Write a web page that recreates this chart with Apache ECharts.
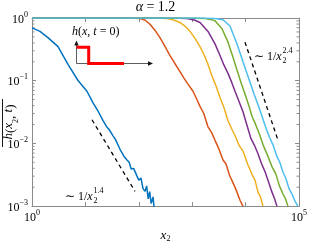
<!DOCTYPE html>
<html><head><meta charset="utf-8">
<script src="https://cdn.jsdelivr.net/npm/echarts@6/dist/echarts.min.js"></script>
<style>html,body{margin:0;padding:0;background:#fff}#c{width:311px;height:248px}</style>
</head><body><div id="c"></div>
<script>
// ---- data ----
const blueX = [1, 1.41, 1.99, 3.07, 4.72, 7.27, 10.7, 13.9, 17.5, 21.4, 25, 28, 32.9, 36, 40, 44.5, 48, 53, 60.1, 66, 72, 80, 92.5, 100, 110, 120, 131, 140, 150, 160, 170, 177, 185, 193, 201];
const blueY = [0.697, 0.611, 0.486, 0.350, 0.182, 0.1007, 0.0679, 0.0443, 0.032, 0.0230, 0.0185, 0.0165, 0.0132, 0.0118, 0.0098, 0.00805, 0.0078, 0.0062, 0.00543, 0.0050, 0.0039, 0.0040, 0.00301, 0.0026, 0.0028, 0.0019, 0.00172, 0.0021, 0.0013, 0.0017, 0.0011, 0.00113, 0.0014, 0.00095, 0.00099];

const orangeX = [1, 60, 105, 130, 162, 200, 249, 300, 384, 470, 591, 700, 834, 1035, 1200, 1400, 1650, 1977, 2300, 2673, 3100, 3775, 4300, 5000, 5563, 6500, 7855, 8935];
const orangeY = [1, 1, 0.984, 0.93, 0.795, 0.64, 0.486, 0.37, 0.252, 0.19, 0.14, 0.11, 0.0883, 0.0679, 0.052, 0.0389, 0.030, 0.0183, 0.0150, 0.0112, 0.0085, 0.00543, 0.0047, 0.0031, 0.00255, 0.0019, 0.00124, 0.00099];

const yellowX = [1, 200, 337, 450, 591, 750, 910, 1150, 1400, 1700, 1977, 2349, 2800, 3317, 3900, 4682, 5600, 6610, 7600, 8935, 11000, 13180, 15000, 17070, 19000, 21170];
const yellowY = [1, 1, 0.984, 0.93, 0.849, 0.73, 0.611, 0.46, 0.350, 0.25, 0.182, 0.119, 0.082, 0.054, 0.038, 0.023, 0.0165, 0.0123, 0.0092, 0.00754, 0.0046, 0.00321, 0.0026, 0.00167, 0.0014, 0.00099];

const purpleX = [1, 400, 799, 1100, 1400, 1977, 2673, 3317, 3900, 4682, 5500, 6327, 7500, 8935, 10500, 12620, 14500, 17070, 20000, 23070, 27000, 31190, 35000, 38700];
const purpleY = [1, 1, 0.984, 0.93, 0.849, 0.611, 0.386, 0.252, 0.18, 0.131, 0.094, 0.0679, 0.047, 0.0319, 0.020, 0.0119, 0.0095, 0.00684, 0.0047, 0.00355, 0.0024, 0.00167, 0.0013, 0.00099];

const greenX = [1, 800, 1738, 2200, 2673, 3614, 4682, 5806, 7209, 8400, 9743, 11500, 13180, 15800, 18620, 22000, 26260, 31000, 37070, 43000, 50120, 56000, 62250];
const greenY = [1, 1, 0.984, 0.95, 0.906, 0.675, 0.412, 0.236, 0.131, 0.088, 0.0615, 0.040, 0.0271, 0.019, 0.0132, 0.0088, 0.0062, 0.0043, 0.00321, 0.0021, 0.00156, 0.0013, 0.00099];

const cyanX = [1, 1500, 2673, 3775, 5103, 6903, 8935, 12090, 14500, 17070, 20000, 23070, 27500, 32570, 38000, 44020, 50000, 57110, 65000, 73960, 84000, 95800];
const cyanY = [1, 1, 0.984, 0.936, 0.744, 0.386, 0.200, 0.0943, 0.060, 0.0415, 0.028, 0.0195, 0.0130, 0.00948, 0.0064, 0.00492, 0.0035, 0.00273, 0.0019, 0.00156, 0.0012, 0.00099];

// guide lines (power-law slopes)
const guide14X = [13.3, 84.9];
const guide14Y = [0.0238, 0.00172];
const guide24X = [9743, 40450];
const guide24Y = [0.412, 0.0112];

// tick labels
const xLabelExponents = {1: '0', 100000: '5'};
const yLabelExponents = {1: '0', 0.1: '−1', 0.01: '−2', 0.001: '−3'};
const minorDecades = [0.001, 0.01, 0.1];
const minorMultipliers = [2, 3, 4, 5, 6, 7, 8, 9];

// ---- chart ----
const SERIF = 'Liberation Serif';
const zip = (xs, ys) => xs.map((x, i) => [x, ys[i]]);
const colors = ['#0072BD', '#D95319', '#EDB120', '#7E2F8E', '#77AC30', '#4DBEEE'];
const curves = [[blueX, blueY], [orangeX, orangeY], [yellowX, yellowY], [purpleX, purpleY], [greenX, greenY], [cyanX, cyanY]];

const minorY = [];
minorDecades.forEach(d => minorMultipliers.forEach(m => minorY.push([1, d * m])));

const tickRich = {
  b: {fontFamily: SERIF, fontSize: 12, color: '#000', lineHeight: 15, verticalAlign: 'bottom'},
  s: {fontFamily: SERIF, fontSize: 8, color: '#000', lineHeight: 9, verticalAlign: 'top'}
};
const axisCol = '#8a8a8a';

const chart = echarts.init(document.getElementById('c'), null, {renderer: 'canvas'});
const series = curves.map((c, i) => ({
  type: 'line', xAxisIndex: 0, yAxisIndex: 0,
  data: zip(c[0], c[1]), showSymbol: false, symbol: 'none', silent: true,
  lineStyle: {color: colors[i], width: 1.5}, z: 3 + i, animation: false
}));
series.push({
  type: 'line', data: zip(guide14X, guide14Y), showSymbol: false, symbol: 'none', silent: true,
  lineStyle: {color: '#000', width: 1.3, type: [4, 3.5]}, z: 10, animation: false
});
series.push({
  type: 'line', data: zip(guide24X, guide24Y), showSymbol: false, symbol: 'none', silent: true,
  lineStyle: {color: '#000', width: 1.3, type: [4, 3.5]}, z: 10, animation: false
});
series.push({
  type: 'custom', data: minorY, silent: true, clip: false, z: 2, animation: false,
  renderItem: (params, api) => {
    const pl = api.coord([1, api.value(1)]);
    const pr = api.coord([100000, api.value(1)]);
    return {type: 'group', children: [
      {type: 'line', shape: {x1: pl[0], y1: pl[1], x2: pl[0] + 2.5, y2: pl[1]}, style: {stroke: axisCol, lineWidth: 1}},
      {type: 'line', shape: {x1: pr[0] - 2.5, y1: pr[1], x2: pr[0], y2: pr[1]}, style: {stroke: axisCol, lineWidth: 1}}
    ]};
  }
});

const baseAxis = {
  type: 'log', logBase: 10, splitLine: {show: false},
  axisLine: {show: true, lineStyle: {color: axisCol, width: 1}},
  axisTick: {show: true, inside: true, length: 4, lineStyle: {color: axisCol}},
  minorTick: {show: false}
};

chart.setOption({
  animation: false,
  grid: {left: 32, top: 18, width: 267, height: 210.5},
  xAxis: [
    Object.assign({}, baseAxis, {
      min: 1, max: 100000, interval: 1, position: 'bottom',
      axisLabel: {show: true, margin: 3, formatter: v => xLabelExponents[v] !== undefined ? '{b|10}{s|' + xLabelExponents[v] + '}' : '', rich: tickRich, showMinLabel: true, showMaxLabel: true},
      name: '{i|x}{s|2}', nameLocation: 'middle', nameGap: 5,
      nameTextStyle: {rich: {
        i: {fontFamily: SERIF, fontStyle: 'italic', fontSize: 13, color: '#000', lineHeight: 12, verticalAlign: 'top'},
        s: {fontFamily: SERIF, fontSize: 8, color: '#000', lineHeight: 14, verticalAlign: 'bottom'}
      }}
    }),
    Object.assign({}, baseAxis, {min: 1, max: 100000, interval: 1, position: 'top', axisLabel: {show: false}})
  ],
  yAxis: [
    Object.assign({}, baseAxis, {
      min: 0.001, max: 1, interval: 1, position: 'left',
      axisLabel: {show: true, margin: 4, formatter: v => {
        const k = Object.keys(yLabelExponents).find(key => Math.abs(Math.log10(+key) - Math.log10(v)) < 1e-6);
        return k !== undefined ? '{b|10}{s|' + yLabelExponents[k] + '}' : '';
      }, rich: tickRich, showMinLabel: true, showMaxLabel: true}
    }),
    Object.assign({}, baseAxis, {min: 0.001, max: 1, interval: 1, position: 'right', axisLabel: {show: false}})
  ],
  series: series,
  graphic: [
    // title
    {type: 'text', left: 'center', top: 0, style: {
      text: '{i|α} = 1.2', fill: '#000', font: '14px "' + SERIF + '"',
      rich: {i: {fontFamily: SERIF, fontStyle: 'italic', fontSize: 14, fill: '#000'}}
    }},
    // y axis name (rotated) with overline
    {type: 'text', x: 11, y: 122, rotation: Math.PI / 2, style: {
      text: '{i|h}({i|x}{s|2}, {i|t})', align: 'center', verticalAlign: 'middle', fill: '#000', font: '13px "' + SERIF + '"',
      rich: {
        i: {fontFamily: SERIF, fontStyle: 'italic', fontSize: 13, fill: '#000', lineHeight: 14, verticalAlign: 'top'},
        s: {fontFamily: SERIF, fontSize: 8, fill: '#000', lineHeight: 17, verticalAlign: 'bottom'}
      }
    }},
    {type: 'line', shape: {x1: 2.5, y1: 99, x2: 2.5, y2: 147}, style: {stroke: '#000', lineWidth: 0.9}},
    // inset schematic h(x, t=0)
    {type: 'text', x: 72, y: 32, style: {
      text: '{i|h}({i|x}, {i|t} = 0)', verticalAlign: 'middle', fill: '#000', font: '12px "' + SERIF + '"',
      rich: {i: {fontFamily: SERIF, fontStyle: 'italic', fontSize: 12, fill: '#000'}}
    }},
    {type: 'line', shape: {x1: 76.5, y1: 63.5, x2: 76.5, y2: 44}, style: {stroke: '#333', lineWidth: 0.8}},
    {type: 'polygon', shape: {points: [[76.5, 40.5], [74.3, 45.5], [78.7, 45.5]]}, style: {fill: '#111'}},
    {type: 'line', shape: {x1: 76.5, y1: 63.5, x2: 149, y2: 63.5}, style: {stroke: '#333', lineWidth: 0.8}},
    {type: 'polygon', shape: {points: [[153, 63.5], [148, 61.3], [148, 65.7]]}, style: {fill: '#111'}},
    {type: 'polyline', shape: {points: [[76.5, 47.3], [88.7, 47.3], [88.7, 63.5], [124, 63.5]]}, style: {stroke: '#ff0000', lineWidth: 3, fill: null}, z: 5},
    // slope annotation 1.4
    {type: 'text', x: 65, y: 197, style: {text: '∼ 1/{i|x}', verticalAlign: 'middle', fill: '#000', font: '12px "' + SERIF + '"',
      rich: {i: {fontFamily: SERIF, fontStyle: 'italic', fontSize: 12, fill: '#000'}}}},
    {type: 'text', x: 93.5, y: 191, style: {text: '1.4', verticalAlign: 'middle', fill: '#000', font: '8px "' + SERIF + '"'}},
    {type: 'text', x: 93.5, y: 201, style: {text: '2', verticalAlign: 'middle', fill: '#000', font: '8px "' + SERIF + '"'}},
    // slope annotation 2.4
    {type: 'text', x: 254, y: 57, style: {text: '∼ 1/{i|x}', verticalAlign: 'middle', fill: '#000', font: '12px "' + SERIF + '"',
      rich: {i: {fontFamily: SERIF, fontStyle: 'italic', fontSize: 12, fill: '#000'}}}},
    {type: 'text', x: 282.5, y: 51, style: {text: '2.4', verticalAlign: 'middle', fill: '#000', font: '8px "' + SERIF + '"'}},
    {type: 'text', x: 282.5, y: 61, style: {text: '2', verticalAlign: 'middle', fill: '#000', font: '8px "' + SERIF + '"'}}
  ]
});
</script>
</body></html>
